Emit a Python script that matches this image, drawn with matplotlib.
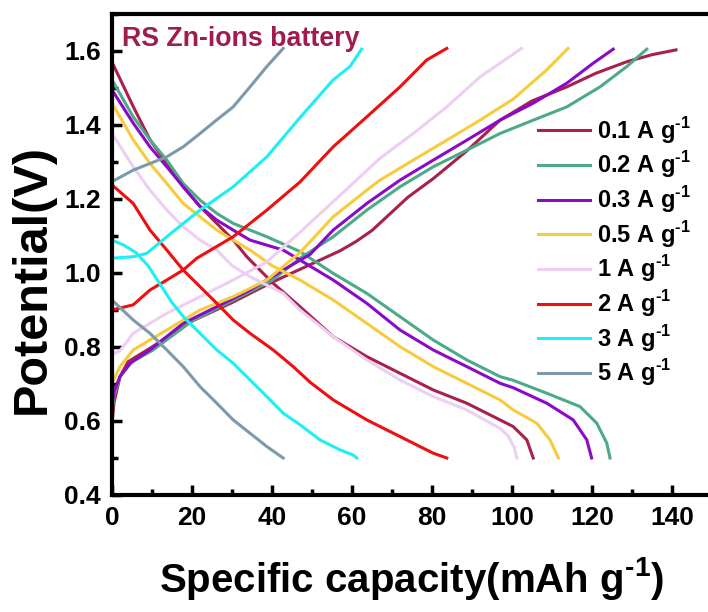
import matplotlib
matplotlib.use("Agg")
import matplotlib.pyplot as plt
from matplotlib.ticker import MultipleLocator

plt.rcParams["font.family"] = ["Liberation Sans", "DejaVu Sans"]
plt.rcParams["font.weight"] = "bold"
plt.rcParams["mathtext.fontset"] = "custom"
plt.rcParams["mathtext.rm"] = "Liberation Sans:bold"
plt.rcParams["mathtext.bf"] = "Liberation Sans:bold"

# current densities (A g-1) and their colours
rates = ["0.1", "0.2", "0.3", "0.5", "1", "2", "3", "5"]
colors = ["#A8204E", "#4DAA88", "#8A0AC8", "#F8CB3C", "#EDCFF2", "#EE1010", "#1DEFF2", "#7C9AAA"]

# discharge curves (capacity mAh/g, potential V)
cap_01_dis = [0, 5.3, 9.5, 13.7, 17.8, 22, 26.2, 30.3, 33.7, 40, 47, 55.3, 63.7, 72, 80.3, 88.7, 97, 100.3, 103.7, 105.3]
v_01_dis = [1.57, 1.45, 1.36, 1.296, 1.233, 1.18, 1.134, 1.089, 1.044, 0.975, 0.909, 0.828, 0.774, 0.729, 0.684, 0.648, 0.603, 0.585, 0.549, 0.5]
cap_02_dis = [0, 5.3, 9.5, 13.7, 17.8, 22, 26.2, 30.3, 38.7, 47, 55.3, 63.7, 72, 80.3, 88.7, 97, 100.3, 108.7, 117, 121.2, 123.7, 124.5]
v_02_dis = [1.522, 1.422, 1.36, 1.305, 1.242, 1.197, 1.161, 1.134, 1.098, 1.058, 0.999, 0.945, 0.882, 0.819, 0.765, 0.72, 0.71, 0.675, 0.639, 0.594, 0.54, 0.5]
cap_03_dis = [0, 5.3, 9.5, 13.7, 17.8, 22, 26.2, 30.3, 34.5, 42.8, 47, 55.3, 63.7, 72, 80.3, 88.7, 97, 100.3, 108.7, 115.3, 118.7, 119.9]
v_03_dis = [1.495, 1.405, 1.341, 1.287, 1.233, 1.18, 1.143, 1.116, 1.089, 1.062, 1.035, 0.981, 0.918, 0.846, 0.792, 0.747, 0.702, 0.69, 0.648, 0.603, 0.549, 0.5]
cap_05_dis = [0, 5.3, 9.5, 13.7, 17.8, 22, 26.2, 30.3, 34.5, 40, 47, 55.3, 63.7, 72, 80.3, 88.7, 97, 100.3, 106.2, 109.5, 111.6]
v_05_dis = [1.459, 1.36, 1.296, 1.242, 1.188, 1.152, 1.116, 1.089, 1.062, 1.02, 0.981, 0.927, 0.864, 0.801, 0.747, 0.702, 0.657, 0.63, 0.594, 0.549, 0.5]
cap_1_dis = [0, 5.3, 9.5, 13.7, 17.8, 22, 26.2, 30, 34.5, 42.8, 47, 55.3, 63.7, 72, 80.3, 88.7, 97, 99, 100.5, 101.2]
v_1_dis = [1.377, 1.287, 1.224, 1.17, 1.125, 1.089, 1.062, 1.02, 0.99, 0.945, 0.9, 0.828, 0.765, 0.711, 0.666, 0.63, 0.58, 0.56, 0.53, 0.5]
cap_2_dis = [0, 5.3, 9.5, 13.7, 17.8, 22, 26.2, 30.3, 34.5, 40.3, 45.3, 49.5, 55.3, 63.7, 72, 80.3, 83.7]
v_2_dis = [1.238, 1.188, 1.116, 1.062, 1.008, 0.963, 0.918, 0.873, 0.837, 0.792, 0.747, 0.705, 0.657, 0.603, 0.558, 0.513, 0.5]
cap_3_dis = [0, 3, 6, 9, 12, 15, 18, 22, 26.2, 30.3, 34.5, 38.7, 42.8, 47, 52, 57, 60.3, 61.2]
v_3_dis = [1.089, 1.075, 1.055, 1.02, 0.97, 0.92, 0.88, 0.837, 0.792, 0.756, 0.711, 0.666, 0.621, 0.59, 0.549, 0.522, 0.508, 0.5]
cap_5_dis = [0, 5.3, 9.5, 13.7, 17.8, 22, 26.2, 30.3, 34.5, 38.7, 42.8]
v_5_dis = [0.927, 0.873, 0.837, 0.792, 0.747, 0.693, 0.648, 0.603, 0.567, 0.531, 0.5]

# charge curves
cap_01_chg = [0, 0.5, 2, 4, 10, 20, 30, 40, 45, 52, 57, 61, 65, 69, 74, 80.3, 88.7, 97, 105, 113.7, 121, 128.7, 135, 141]
v_01_chg = [0.59, 0.65, 0.72, 0.76, 0.8, 0.87, 0.92, 0.975, 1.0, 1.035, 1.06, 1.085, 1.115, 1.155, 1.205, 1.255, 1.33, 1.413, 1.465, 1.503, 1.54, 1.571, 1.59, 1.603]
cap_02_chg = [0, 0.5, 2, 5, 10, 20, 30, 40, 47, 55.3, 63.7, 72, 80.3, 88.7, 97, 105.3, 113.7, 122, 128.7, 133.7]
v_02_chg = [0.62, 0.67, 0.72, 0.76, 0.79, 0.87, 0.925, 0.98, 1.04, 1.098, 1.17, 1.233, 1.287, 1.332, 1.377, 1.413, 1.449, 1.503, 1.558, 1.605]
cap_03_chg = [0, 0.5, 2, 4.5, 9.5, 17.8, 26.2, 34.5, 42.8, 49.5, 55.3, 63.7, 72, 80.3, 88.7, 97, 105.3, 113.7, 120.3, 125.3]
v_03_chg = [0.645, 0.68, 0.72, 0.756, 0.792, 0.864, 0.909, 0.954, 1.008, 1.05, 1.116, 1.188, 1.251, 1.305, 1.359, 1.413, 1.459, 1.513, 1.567, 1.605]
cap_05_chg = [0, 2, 5.3, 13.7, 22, 30.3, 38.7, 47, 55.3, 63.7, 67, 75.3, 83.7, 92, 100.3, 108.7, 114]
v_05_chg = [0.702, 0.747, 0.792, 0.846, 0.9, 0.936, 0.981, 1.055, 1.152, 1.224, 1.251, 1.305, 1.359, 1.413, 1.47, 1.549, 1.607]
cap_1_chg = [0, 2, 5.3, 13.7, 22, 30.3, 38.7, 47, 55, 60, 67, 75.3, 83.7, 92, 102.4]
v_1_chg = [0.78, 0.79, 0.837, 0.891, 0.936, 0.981, 1.03, 1.11, 1.19, 1.24, 1.31, 1.377, 1.449, 1.53, 1.607]
cap_2_chg = [0, 5.3, 9.5, 13.7, 17.8, 21.2, 30.3, 38.7, 47, 55.3, 63.7, 72, 78.7, 83.7]
v_2_chg = [0.9, 0.914, 0.954, 0.981, 1.008, 1.04, 1.098, 1.17, 1.246, 1.341, 1.422, 1.503, 1.576, 1.607]
cap_3_chg = [0, 5.3, 8.7, 13.7, 17.8, 22, 30.3, 38.7, 47, 55.3, 59.5, 62.4]
v_3_chg = [1.04, 1.044, 1.053, 1.098, 1.134, 1.17, 1.233, 1.314, 1.42, 1.522, 1.558, 1.605]
cap_5_chg = [0, 5.3, 13.7, 17.8, 22, 26.2, 30.3, 34.5, 38.7, 42.8]
v_5_chg = [1.247, 1.278, 1.314, 1.341, 1.377, 1.414, 1.449, 1.503, 1.558, 1.607]

discharge = [(cap_01_dis, v_01_dis), (cap_02_dis, v_02_dis), (cap_03_dis, v_03_dis), (cap_05_dis, v_05_dis),
             (cap_1_dis, v_1_dis), (cap_2_dis, v_2_dis), (cap_3_dis, v_3_dis), (cap_5_dis, v_5_dis)]
charge = [(cap_01_chg, v_01_chg), (cap_02_chg, v_02_chg), (cap_03_chg, v_03_chg), (cap_05_chg, v_05_chg),
          (cap_1_chg, v_1_chg), (cap_2_chg, v_2_chg), (cap_3_chg, v_3_chg), (cap_5_chg, v_5_chg)]

sup = r"$^{\text{-1}}$"

fig = plt.figure(figsize=(7.08, 6.12), dpi=100)
ax = fig.add_axes([112 / 708, 117 / 612, 600 / 708, 481 / 612])

for rate, c, (xd, yd), (xc, yc) in zip(rates, colors, discharge, charge):
    ax.plot(xd, yd, color=c, lw=2.2, label=rate + " A g" + sup)
    ax.plot(xc, yc, color=c, lw=2.2)

ax.set_xlim(0, 150)
ax.set_ylim(0.4, 1.7)
ax.xaxis.set_major_locator(MultipleLocator(20))
ax.xaxis.set_minor_locator(MultipleLocator(10))
ax.yaxis.set_major_locator(MultipleLocator(0.2))
ax.yaxis.set_minor_locator(MultipleLocator(0.1))
ax.tick_params(which="both", direction="in", width=2.5, labelsize=19, top=False, right=False)
ax.tick_params(which="major", length=7, pad=8)
ax.tick_params(which="minor", length=4)
for lab in ax.get_xticklabels() + ax.get_yticklabels():
    lab.set_fontweight("bold")
for s in ax.spines.values():
    s.set_linewidth(3)

ax.set_xlabel("Specific capacity(mAh g" + sup + ")", fontsize=29, fontweight="bold")
ax.xaxis.set_label_coords(0.5, -0.125)
ax.set_ylabel("Potential(V)", fontsize=35, fontweight="bold")
ax.yaxis.set_label_coords(-0.095, 0.45)

ax.text(0.016, 0.975, "RS Zn-ions battery", transform=ax.transAxes, color="#A01C4E",
        fontsize=19.3, fontweight="bold", va="top", ha="left")

ax.legend(loc="upper left", bbox_to_anchor=(0.695, 0.81), frameon=False, fontsize=17,
          handlelength=2.2, handletextpad=0.3, labelspacing=0.16, borderaxespad=0)

fig.savefig("out.png", dpi=100)
